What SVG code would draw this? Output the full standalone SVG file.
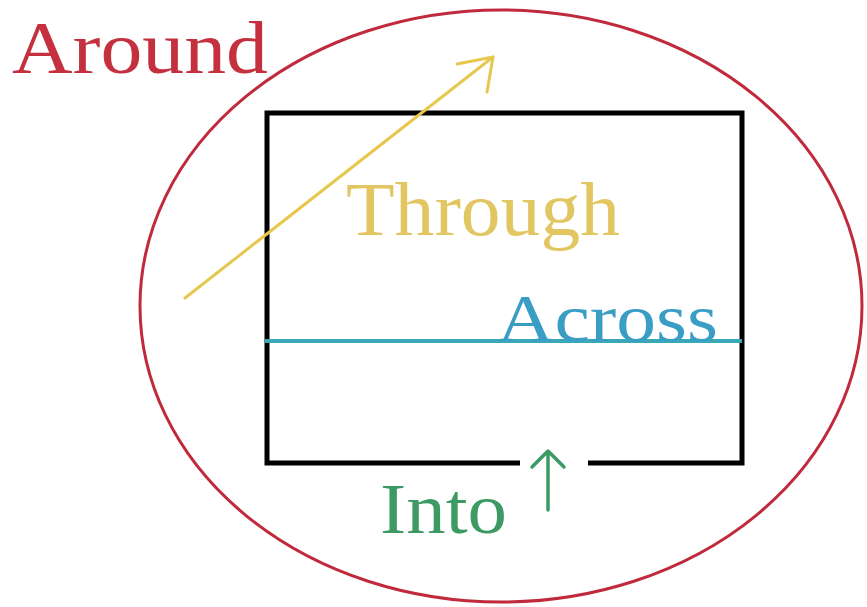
<svg xmlns="http://www.w3.org/2000/svg" width="867" height="607" viewBox="0 0 867 607">
<style>
.lbl{font-family:"Liberation Serif","Times New Roman",serif;}
.ln{fill:none;stroke-linecap:round;stroke-linejoin:round;}
</style>
<rect width="867" height="607" fill="#ffffff"/>
<g id="around">
<ellipse cx="501" cy="306" rx="361" ry="296" fill="none" stroke="#c02a3c" stroke-width="3"/>
<text class="lbl" x="12" y="73" font-size="74" fill="#c4303e" textLength="256" lengthAdjust="spacingAndGlyphs">Around</text>
</g>
<g id="box">
<path d="M520 463 H267 V113 H742 V463 H588" fill="none" stroke="#000000" stroke-width="5"/>
</g>
<g id="connectors">
<g id="through-arrow" class="ln" stroke="#e6c84e" stroke-width="3">
<line x1="185" y1="298" x2="493" y2="57"/>
<polyline points="457,64 493,57 487,92"/>
</g>
<line id="across-line" x1="265" y1="341" x2="742" y2="341" stroke="#3aa8b8" stroke-width="4"/>
<g id="into-arrow" class="ln" stroke="#3a9a62" stroke-width="3.5">
<line x1="548" y1="452" x2="548" y2="510"/>
<polyline points="532,467 548,451 564,467"/>
</g>
</g>
<g id="through">
<text class="lbl" x="346" y="235" font-size="76" fill="#e2c662" textLength="274" lengthAdjust="spacingAndGlyphs">Through</text>
</g>
<g id="across">
<text class="lbl" x="497" y="341" font-size="68" fill="#3a9ec4" textLength="221" lengthAdjust="spacingAndGlyphs">Across</text>
</g>
<g id="into">
<text class="lbl" x="380" y="533" font-size="71" fill="#3e9a64" textLength="127" lengthAdjust="spacingAndGlyphs">Into</text>
</g>
</svg>
